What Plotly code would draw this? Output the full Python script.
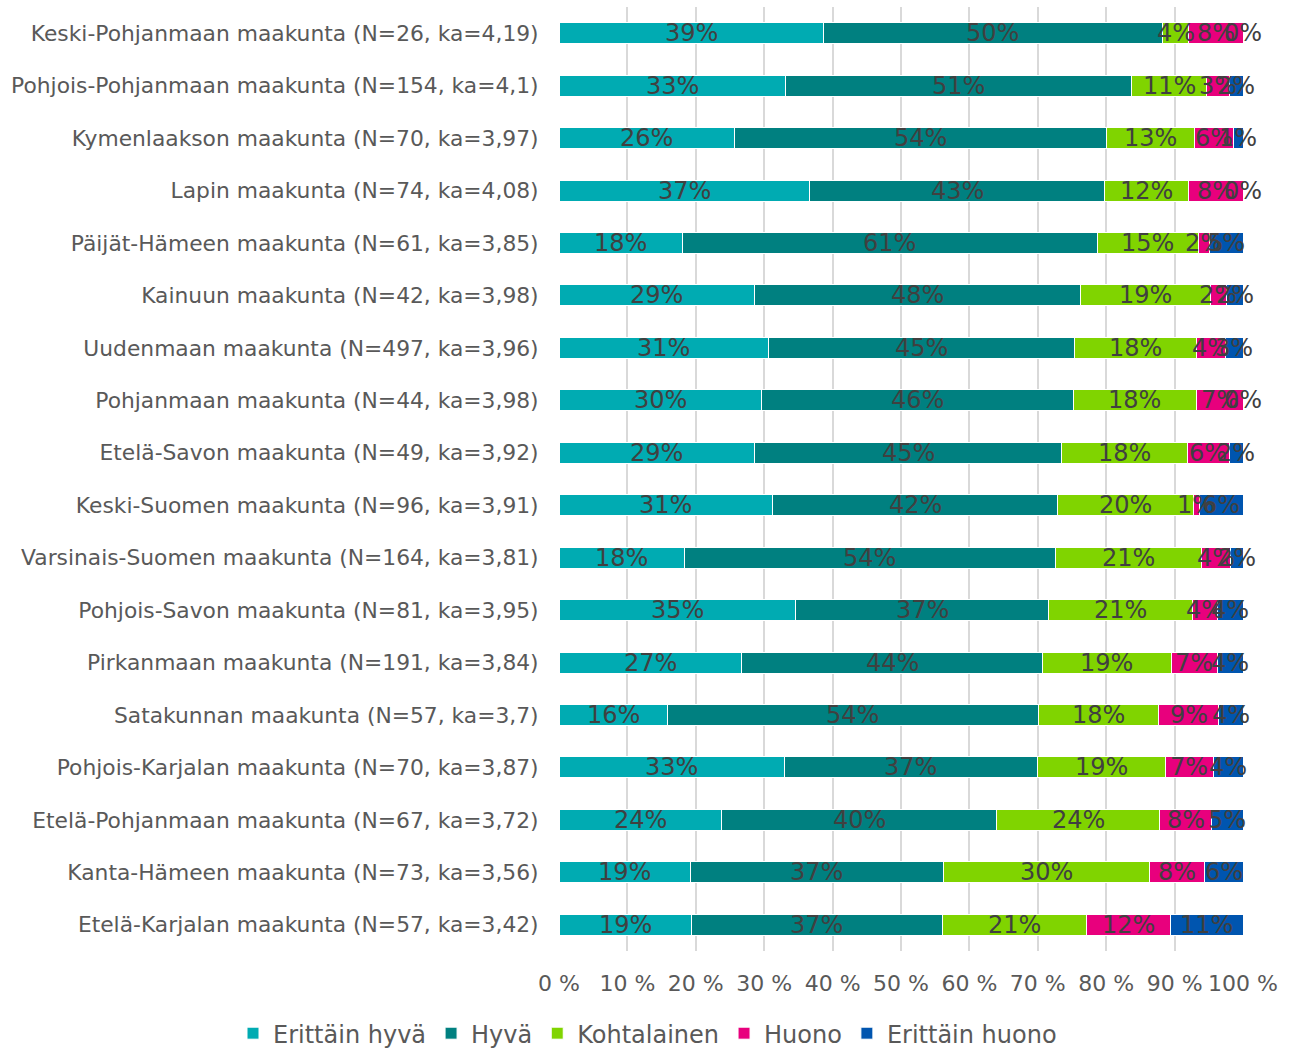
import plotly.graph_objects as go

categories = [
    "Keski-Pohjanmaan maakunta (N=26, ka=4,19)",
    "Pohjois-Pohjanmaan maakunta (N=154, ka=4,1)",
    "Kymenlaakson maakunta (N=70, ka=3,97)",
    "Lapin maakunta (N=74, ka=4,08)",
    "Päijät-Hämeen maakunta (N=61, ka=3,85)",
    "Kainuun maakunta (N=42, ka=3,98)",
    "Uudenmaan maakunta (N=497, ka=3,96)",
    "Pohjanmaan maakunta (N=44, ka=3,98)",
    "Etelä-Savon maakunta (N=49, ka=3,92)",
    "Keski-Suomen maakunta (N=96, ka=3,91)",
    "Varsinais-Suomen maakunta (N=164, ka=3,81)",
    "Pohjois-Savon maakunta (N=81, ka=3,95)",
    "Pirkanmaan maakunta (N=191, ka=3,84)",
    "Satakunnan maakunta (N=57, ka=3,7)",
    "Pohjois-Karjalan maakunta (N=70, ka=3,87)",
    "Etelä-Pohjanmaan maakunta (N=67, ka=3,72)",
    "Kanta-Hämeen maakunta (N=73, ka=3,56)",
    "Etelä-Karjalan maakunta (N=57, ka=3,42)",
]

erittain_hyva = [38.6, 33.1, 25.7, 36.6, 18.0, 28.6, 30.6, 29.6, 28.6, 31.2, 18.3, 34.6, 26.7, 15.8, 32.9, 23.8, 19.2, 19.3]
hyva =          [49.6, 50.6, 54.3, 43.2, 60.7, 47.6, 44.7, 45.6, 44.9, 41.7, 54.3, 37.0, 44.0, 54.3, 37.1, 40.2, 37.0, 36.8]
kohtalainen =   [3.9, 11.0, 12.9, 12.2, 14.8, 19.0, 17.9, 18.0, 18.4, 19.8, 21.3, 21.0, 18.8, 17.6, 18.6, 23.8, 30.1, 21.0]
huono =         [7.9, 3.3, 5.7, 8.0, 1.6, 2.4, 4.2, 6.8, 6.1, 1.0, 4.3, 3.7, 6.8, 8.7, 7.1, 7.6, 8.1, 12.3]
erittain_huono = [0.0, 2.0, 1.4, 0.0, 4.9, 2.4, 2.6, 0.0, 2.0, 6.3, 1.8, 3.7, 3.7, 3.6, 4.3, 4.6, 5.6, 10.6]

series_names = ["Erittäin hyvä", "Hyvä", "Kohtalainen", "Huono", "Erittäin huono"]
series_values = [erittain_hyva, hyva, kohtalainen, huono, erittain_huono]
series_colors = ["#00ABB2", "#008080", "#80D400", "#E8007D", "#0055AF"]

tick_values = [0, 10, 20, 30, 40, 50, 60, 70, 80, 90, 100]
tick_labels = ["0 %", "10 %", "20 %", "30 %", "40 %", "50 %", "60 %", "70 %", "80 %", "90 %", "100 %"]

FONT = "DejaVu Sans, Verdana, sans-serif"
LABEL_COLOR = "#404040"
AXIS_COLOR = "#595959"

fig = go.Figure()
for name, vals, col in zip(series_names, series_values, series_colors):
    fig.add_trace(go.Bar(
        name=name,
        y=categories,
        x=vals,
        orientation="h",
        marker=dict(color=col, line=dict(color="white", width=1)),
        hoverinfo="skip",
    ))

# data labels, centred on each stacked segment (drawn above all bars)
annotations = []
for i, cat in enumerate(categories):
    start = 0.0
    for vals in series_values:
        v = vals[i]
        annotations.append(dict(
            x=round(start + v / 2.0, 6), y=cat, xref="x", yref="y",
            text="%.0f%%" % v, showarrow=False,
            font=dict(family=FONT, size=24, color=LABEL_COLOR),
            xanchor="center", yanchor="middle",
        ))
        start += v

fig.update_layout(
    barmode="stack",
    bargap=0.6,
    width=1295,
    height=1048,
    margin=dict(l=559, r=52, t=7, b=97, autoexpand=False),
    plot_bgcolor="white",
    paper_bgcolor="white",
    font=dict(family=FONT, color=AXIS_COLOR),
    showlegend=True,
    legend=dict(
        orientation="h",
        xref="paper", yref="paper",
        x=-0.4766, xanchor="left",
        y=-0.0875, yanchor="middle",
        font=dict(family=FONT, size=24, color=AXIS_COLOR),
        traceorder="normal",
        itemclick=False,
    ),
    annotations=annotations,
)
fig.update_xaxes(
    range=[0, 100],
    tickvals=tick_values,
    ticktext=tick_labels,
    tickfont=dict(family=FONT, size=22, color=AXIS_COLOR),
    showgrid=True,
    gridcolor="#D9D9D9",
    gridwidth=2,
    zeroline=False,
    showline=False,
    ticks="outside",
    ticklen=13,
    tickcolor="rgba(0,0,0,0)",
    automargin=False,
)
fig.update_yaxes(
    autorange="reversed",
    categoryorder="array",
    categoryarray=categories,
    tickfont=dict(family=FONT, size=21.8, color=AXIS_COLOR),
    showgrid=False,
    showline=False,
    ticks="outside",
    ticklen=15,
    tickcolor="rgba(0,0,0,0)",
    automargin=False,
)

fig.write_html(
    "out.html",
    config={"displayModeBar": False},
    post_script="document.body.style.margin='0';",
)
